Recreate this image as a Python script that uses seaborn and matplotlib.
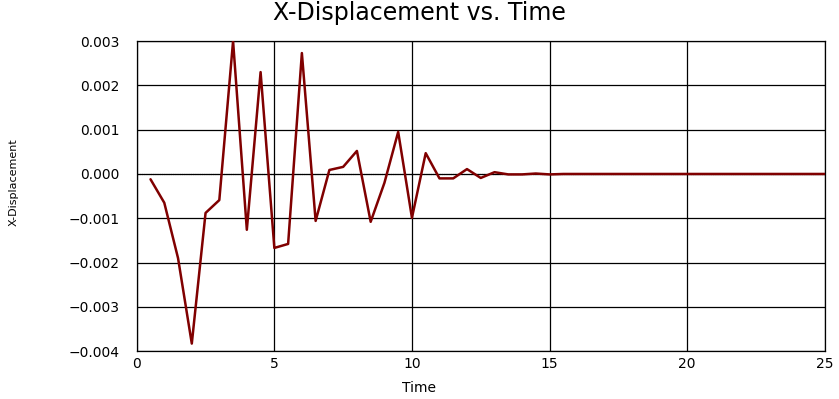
import numpy as np
import pandas as pd
import matplotlib
matplotlib.use("Agg")
import matplotlib.pyplot as plt
import seaborn as sns

# time steps and x displacement
time = [0.5, 1.0, 1.5, 2.0, 2.5, 3.0, 3.5, 4.0, 4.5, 5.0,
        5.5, 6.0, 6.5, 7.0, 7.5, 8.0, 8.5, 9.0, 9.5, 10.0,
        10.5, 11.0, 11.5, 12.0, 12.5, 13.0, 13.5, 14.0, 14.5, 15.0,
        15.5, 16.0, 16.5, 17.0, 17.5, 18.0, 18.5, 19.0, 19.5, 20.0,
        20.5, 21.0, 21.5, 22.0, 22.5, 23.0, 23.5, 24.0, 24.5, 25.0]
x_disp = [-0.00012, -0.00065, -0.00190, -0.00383, -0.00088, -0.00059, 0.00300, -0.00126, 0.00230, -0.00167,
          -0.00158, 0.00273, -0.00106, 0.00009, 0.00016, 0.00052, -0.00108, -0.00020, 0.00095, -0.00099,
          0.00047, -0.00010, -0.00010, 0.00011, -0.00009, 0.00004, -0.00001, -0.00001, 0.00001, -0.00001,
          0.0, 0.0, 0.0, 0.0, 0.0, 0.0, 0.0, 0.0, 0.0, 0.0,
          0.0, 0.0, 0.0, 0.0, 0.0, 0.0, 0.0, 0.0, 0.0, 0.0]
x_ticks = [0, 5, 10, 15, 20, 25]
y_ticks = [-0.004, -0.003, -0.002, -0.001, 0.0, 0.001, 0.002, 0.003]
y_ticklabels = ["\u22120.004", "\u22120.003", "\u22120.002", "\u22120.001",
                "0.000", "0.001", "0.002", "0.003"]

df = pd.DataFrame({"Time": time, "X-Displacement": x_disp})

sns.set_style("white")
plt.rcParams["font.family"] = ["DejaVu Sans"]
plt.rcParams["text.color"] = "black"
plt.rcParams["axes.labelcolor"] = "black"

fig, ax = plt.subplots(figsize=(8.39, 3.99), dpi=100)
fig.subplots_adjust(left=0.163, right=0.983, top=0.897, bottom=0.12)

# zero line, dotted
ax.axhline(0, color="black", lw=0.8, ls=(0, (1, 1)), zorder=1)

sns.lineplot(data=df, x="Time", y="X-Displacement", color="#800000", lw=1.8, ax=ax, zorder=3)

ax.set_xlim(0, 25)
ax.set_ylim(-0.004, 0.003)
ax.set_xticks(x_ticks)
ax.set_yticks(y_ticks)
ax.set_yticklabels(y_ticklabels)
ax.grid(True, color="black", lw=0.9)
for s in ax.spines.values():
    s.set_color("black")
    s.set_linewidth(0.9)
ax.tick_params(axis="y", direction="out", length=12.5, width=0.9, pad=0, labelsize=10, colors="black")
ax.tick_params(axis="x", direction="in", length=0, pad=4, labelsize=10, colors="black")
# no tick on the zero line
ax.yaxis.get_major_ticks()[4].tick1line.set_visible(False)

# title and axis labels are centred on the figure, not the axes
fig.suptitle("X-Displacement vs. Time", fontsize=17, x=0.5, y=1 - 1 / 399, va="top", color="black")
ax.set_xlabel("Time", fontsize=10)
ax.xaxis.set_label_coords(0.5, 1 - 381 / 399, transform=fig.transFigure)
ax.set_ylabel("X-Displacement", fontsize=8)
ax.yaxis.set_label_coords(19 / 839, 1 - 182 / 399, transform=fig.transFigure)

plt.savefig("out.png", dpi=100)
